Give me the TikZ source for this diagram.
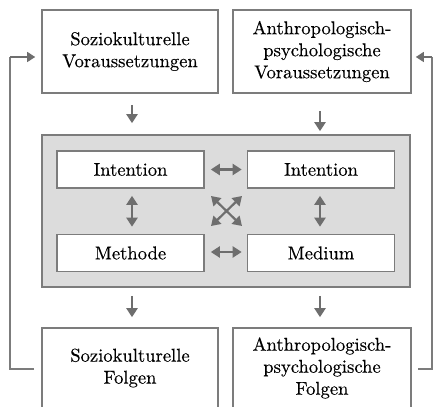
\documentclass[tikz,border=0pt]{standalone}
\usepackage{fontspec}
\newfontfamily\labelfont{lmroman10-regular.otf}[FakeBold=0.3]
\usetikzlibrary{arrows.meta,calc}
\definecolor{edgegray}{HTML}{7C7C7C}
\definecolor{arrowgray}{HTML}{6E6E6E}
\definecolor{panelgray}{HTML}{DCDCDC}
\begin{document}
\begin{tikzpicture}[x=1pt,y=1pt,
  box/.style={draw=edgegray,line width=1.6pt,fill=white,align=center,
    inner sep=0pt,font=\labelfont\fontsize{18.6}{22}\selectfont},
  outerbox/.style={box,minimum height=83pt},
  innerbox/.style={box,minimum width=147pt,minimum height=37pt},
  tip/.tip={Triangle[length=9pt,width=11pt]},
  arr/.style={draw=arrowgray,line width=2.2pt,-tip},
  dbl/.style={draw=arrowgray,line width=2.2pt,tip-tip},
  feed/.style={draw=edgegray,line width=1.4pt}]
\useasboundingbox (0,0) rectangle (442,407);
\clip (0,0) rectangle (442,407);

% central panel with the four factors
\node[draw=edgegray,line width=1.6pt,fill=panelgray,minimum width=368pt,
  minimum height=152pt,inner sep=0pt] (core) at (226,196) {};
\node[innerbox] (intl) at (130.5,237.5) {Intention};
\node[innerbox] (intr) at (321,237.5) {Intention};
\node[innerbox] (meth) at (130.5,154) {Methode};
\node[innerbox] (med)  at (321,154) {Medium};

% preconditions and consequences
\node[outerbox,minimum width=176pt] (vsoz) at (130,355.5)
  {Soziokulturelle\\Voraussetzungen};
\node[outerbox,minimum width=178pt] (vanth) at (322,355.5)
  {Anthropologisch-\\psychologische\\Voraussetzungen};
\node[outerbox,minimum width=176pt,minimum height=80pt] (fsoz) at (130,39)
  {Soziokulturelle\\Folgen};
\node[outerbox,minimum width=178pt,minimum height=80pt] (fanth) at (322,39)
  {Anthropologisch-\\psychologische\\Folgen};

% arrows into and out of the panel
\draw[arr] ($(vsoz.south)+(2,-11)$) -- ($(vsoz.south |- core.north)+(2,11)$);
\draw[arr] ($(vanth.south)+(-2,-17)$) -- ($(vanth.south |- core.north)+(-2,3)$);
\draw[arr] ($(core.south -| vsoz.south)+(2,-8)$) -- ($(fsoz.north)+(2,10)$);
\draw[arr] ($(core.south -| vanth.south)+(-2,-8)$) -- ($(fanth.north)+(-2,10)$);

% interactions inside the panel
\draw[dbl] ($(intl.east)+(6,0)$) -- ($(intr.west)+(-5,0)$);
\draw[dbl] ($(meth.east)+(6,1)$) -- ($(med.west)+(-5,1)$);
\draw[dbl] ($(intl.south)+(1.5,-7)$) -- ($(meth.north)+(1.5,7)$);
\draw[dbl] ($(intr.south)+(-1,-7)$) -- ($(med.north)+(-1,7)$);
\draw[dbl] (211,211) -- (242,181);
\draw[dbl] (211,181) -- (242,211);

% feedback loops from consequences back to preconditions
\coordinate (lb) at (34,38);
\coordinate (lc) at (10,38);
\coordinate (lt) at (10,350);
\draw[feed] (lb) -- (lc) -- (lt);
\draw[feed,-{Triangle[length=8pt,width=10pt]},draw=arrowgray,fill=arrowgray]
  (lt) -- ($(vsoz.west |- lt)+(-6,0)$);
\coordinate (rb) at (418,38);
\coordinate (rc) at (432,38);
\coordinate (rt) at (432,350);
\draw[feed] (rb) -- (rc) -- (rt);
\draw[feed,-{Triangle[length=8pt,width=10pt]},draw=arrowgray,fill=arrowgray]
  (rt) -- ($(vanth.east |- rt)+(4,0)$);
\end{tikzpicture}
\end{document}
